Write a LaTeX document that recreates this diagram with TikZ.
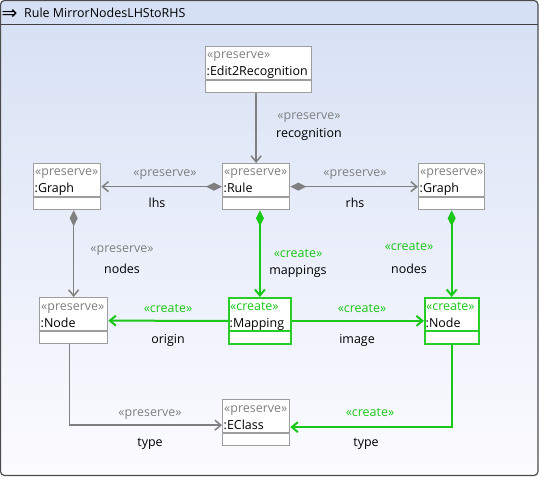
\documentclass[tikz,border=0pt]{standalone}
\usepackage{fontspec}
\setmainfont{Open Sans}
\newfontfamily\symfont{DejaVu Sans}
\usetikzlibrary{arrows.meta}
\definecolor{cgray}{RGB}{128,128,128}
\definecolor{bgray}{RGB}{158,158,158}
\definecolor{cgreen}{RGB}{25,200,25}
\definecolor{bgreen}{RGB}{40,205,40}
\definecolor{bgtop}{RGB}{214,224,244}
\definecolor{bgbot}{RGB}{252,252,255}
\newcommand{\fsz}{\fontsize{12.5}{14}\selectfont}
\tikzset{
  objbox/.style={draw=bgray, line width=1.3bp, fill=white, anchor=north west, inner sep=0pt, minimum height=46bp},
  newbox/.style={draw=bgreen, line width=1.8bp, fill=white, anchor=north west, inner sep=0pt, minimum height=46bp},
  stereo/.style={text=cgray, font=\fsz, inner sep=0pt},
  stereonew/.style={text=cgreen, font=\fsz, inner sep=0pt},
  oname/.style={text=black, font=\fsz, inner sep=0pt},
  lbl/.style={text=black, font=\fsz, inner sep=0pt, anchor=base},
  lblpre/.style={text=cgray, font=\fsz, inner sep=0pt, anchor=base},
  lblnew/.style={text=cgreen, font=\fsz, inner sep=0pt, anchor=base},
  preref/.style={draw=cgray, line width=1.5bp, -{Straight Barb[length=6bp,width=10bp]}},
  precomp/.style={draw=cgray, line width=1.5bp, {Diamond[length=16bp,width=8bp,fill=cgray]}-{Straight Barb[length=6bp,width=10bp]}},
  newref/.style={draw=cgreen, line width=2bp, -{Straight Barb[length=6bp,width=10bp]}},
  newcomp/.style={draw=cgreen, line width=2bp, {Diamond[length=16bp,width=8bp,fill=cgreen]}-{Straight Barb[length=6bp,width=10bp]}},
}
% #1 name, #2 x, #3 y, #4 width, #5 box style, #6 stereotype style, #7 stereotype, #8 title
\newcommand{\mkobj}[8]{%
  \node[#5, minimum width=#4 bp] (#1) at (#2,#3) {};
  \draw[#5, fill=none] (#1.north west) ++(0,34) -- ++(#4,0);
  \path (#1.north west) ++(2,13) node[#6, anchor=base west] {#7};
  \path (#1.north west) ++(1.5,30) node[oname, anchor=base west] {#8};
}
\begin{document}
\begin{tikzpicture}[x=1bp,y=-1bp]
\useasboundingbox (0,0) rectangle (539,477);
% frame and background
\shade[top color=bgtop, bottom color=bgbot, rounded corners=4bp] (0.5,0.5) rectangle (538,475.5);
\fill[bgtop, rounded corners=4bp] (0.5,0.5) rectangle (538,25);
\fill[bgtop] (0.5,15) rectangle (538,25);
\draw[black!75, line width=1bp] (0.5,25) -- (538,25);
\draw[black!70, line width=1.2bp, rounded corners=4bp] (0.5,0.5) rectangle (538,475.5);
\node[anchor=base west, inner sep=0pt, font=\symfont\fontsize{19}{20}\selectfont] (icon) at (1.5,19.5) {⇒};
\node[anchor=base west, inner sep=0pt, font=\fsz] (title) at (24,18) {Rule MirrorNodesLHStoRHS};
% objects
\mkobj{e2r}{205}{46}{106}{objbox}{stereo}{«preserve»}{:Edit2Recognition}
\mkobj{graphL}{33}{163}{67}{objbox}{stereo}{«preserve»}{:Graph}
\mkobj{rule}{222}{163}{67}{objbox}{stereo}{«preserve»}{:Rule}
\mkobj{graphR}{418}{163}{66}{objbox}{stereo}{«preserve»}{:Graph}
\mkobj{nodeL}{39}{297}{68}{objbox}{stereo}{«preserve»}{:Node}
\mkobj{mapping}{228}{297}{62}{newbox}{stereonew}{«create»}{:Mapping}
\mkobj{nodeR}{424}{297}{54}{newbox}{stereonew}{«create»}{:Node}
\mkobj{eclass}{222}{399}{67}{objbox}{stereo}{«preserve»}{:EClass}
% connectors
\draw[preref] (e2r.south -| rule.north) -- (rule.north);
\draw[precomp] (rule.west) -- (graphL.east);
\draw[precomp] (rule.east) -- (graphR.west);
\draw[precomp] (graphL.south -| nodeL.north) -- (nodeL.north);
\draw[newcomp] (rule.south -| mapping.north) -- (mapping.north);
\draw[newcomp] (graphR.south) -- (graphR.south |- nodeR.north);
\draw[newref] (mapping.west) -- (nodeL.east);
\draw[newref] (mapping.east) -- (nodeR.west);
\coordinate (tL) at ([xshift=-4bp]nodeL.south);
\coordinate (tR) at (nodeR.south);
\coordinate (eL) at ([yshift=-2.5bp]eclass.west);
\coordinate (eR) at ([yshift=-4.5bp]eclass.east);
\draw[preref] (tL) |- (eL);
\draw[newref] (tR) |- (eR);
% labels
\node[lblpre] (l1a) at (309,120) {«preserve»};
\node[lbl] (l1b) at (309,138) {recognition};
\node[lblpre] (l2a) at (165,177) {«preserve»};
\node[lbl] (l2b) at (157,208) {lhs};
\node[lblpre] (l3a) at (355,177) {«preserve»};
\node[lbl] (l3b) at (355,208) {rhs};
\node[lblpre] (l4a) at (122,252) {«preserve»};
\node[lbl] (l4b) at (122,273) {nodes};
\node[lblnew] (l5a) at (298,257) {«create»};
\node[lbl] (l5b) at (298,274) {mappings};
\node[lblnew] (l6a) at (409,250) {«create»};
\node[lbl] (l6b) at (409,273) {nodes};
\node[lblnew] (l7a) at (168,312) {«create»};
\node[lbl] (l7b) at (168,343) {origin};
\node[lblnew] (l8a) at (362,312) {«create»};
\node[lbl] (l8b) at (357,343) {image};
\node[lblpre] (l9a) at (150,416) {«preserve»};
\node[lbl] (l9b) at (150,446) {type};
\node[lblnew] (l10a) at (370,416) {«create»};
\node[lbl] (l10b) at (366,446) {type};
\end{tikzpicture}
\end{document}
